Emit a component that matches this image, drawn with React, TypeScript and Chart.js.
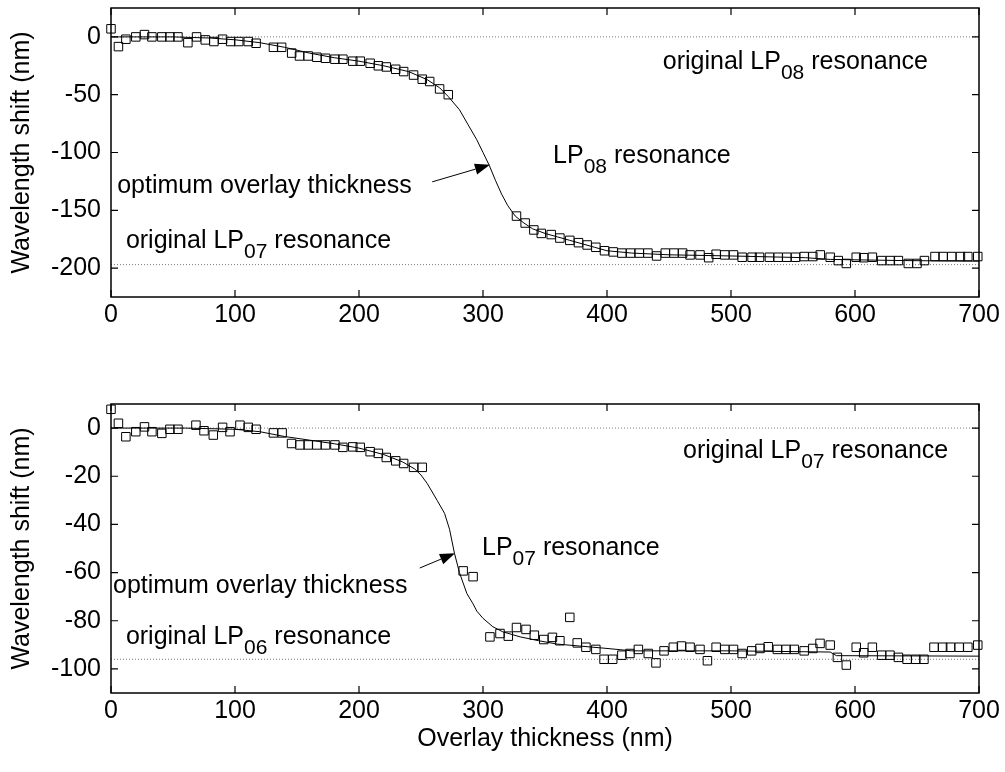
import React, { useEffect, useRef } from 'react';
import { Chart, registerables } from 'chart.js';

Chart.register(...registerables);

const FONT = '"Liberation Sans", Arial, Helvetica, sans-serif';
const FS = 25;

const xTicks = [0, 100, 200, 300, 400, 500, 600, 700];
const topYTicks = [-200, -150, -100, -50, 0];
const botYTicks = [-100, -80, -60, -40, -20, 0];

// Top panel: measured points (squares)
const topPtX = [0, 6, 12, 20, 27, 33, 41, 47.5, 54, 62, 69, 76, 83, 90, 96.5, 103, 110.7, 117, 131, 137.6,
  145.7, 152, 159, 166, 173, 180.6, 187, 195, 201, 209, 215.6, 222, 229.6, 236, 244, 251, 257, 265, 272,
  327, 334, 341, 347, 355, 362, 370, 377, 384, 391, 398, 405, 412, 419, 426, 433, 440, 447, 454, 461, 467,
  475, 482, 488, 495, 502, 509, 517, 523, 531, 538, 545, 552, 559, 566, 572, 580, 586.5, 593, 601, 607,
  614, 621.5, 628.5, 635, 643, 650, 656, 664.5, 671, 678, 685, 691, 699];
const topPtY = [7, -8.4, -2, 0, 2, 0, 0, 0, 0, -5, 0, -2.6, -4, -2, -4, -4, -4, -5.5, -9, -9,
  -14, -16.5, -16.5, -17.6, -18.5, -19.3, -19.3, -21, -21, -22.8, -25, -26, -28, -30, -33, -36.6, -38.6, -45, -50,
  -155, -161, -167, -170, -171, -174, -176, -178, -180, -182, -185, -186, -187, -187, -187, -187, -189.5, -187, -187, -187, -188.6,
  -188.6, -191, -188, -188.6, -188.6, -190.6, -190.6, -190.6, -190.6, -190.6, -190.6, -190.6, -190, -190, -188.6, -190.6, -193.5, -196, -190.6, -191,
  -190.6, -193.5, -193.5, -193.5, -196, -196, -193.5, -190, -190, -190, -190, -190, -190];

// Top panel: fitted curve
const topFitX = [0, 50, 80, 100, 120, 140, 160, 180, 200, 220, 240, 255, 265, 272, 281, 288, 295, 300, 305, 310,
  315, 320, 326, 333, 340, 350, 360, 370, 380, 390, 400, 420, 450, 500, 560, 580, 640, 700];
const topFitY = [0, 0, -1, -2.5, -5, -9, -14, -18, -21, -25, -30, -37, -44, -51.6, -63, -76, -89, -100, -111, -124,
  -136, -146, -155, -161, -166, -170, -173, -176, -179, -182, -185, -187, -188.5, -189.5, -191, -192.5, -193.5, -194];
const topRefY = [0, -197];

// Bottom panel: measured points (squares)
const botPtX = [0, 6, 12, 20, 27, 33, 41, 47.5, 54, 68.5, 75, 82.5, 90, 96, 104, 110.7, 117, 131, 138, 145.6,
  152.4, 159, 166, 173, 180.6, 187, 195, 201, 209, 215.6, 222, 229.6, 236, 244, 251, 284, 292,
  305.6, 313.7, 320.4, 327, 334.7, 341.4, 349, 356, 362, 370, 376, 383, 391, 397.6, 404.6, 412, 418.5, 425.3, 433.3,
  439.5, 446, 453.5, 460, 467, 475, 481, 488, 495, 502, 509, 516.7, 523.4, 530, 537.4, 544.4, 551, 559, 566,
  571.8, 580, 585.8, 593, 601, 607, 614, 621.5, 628.2, 635, 642, 649, 655.6, 663.7, 670.7, 677, 684, 691, 699];
const botPtY = [7.8, 2, -3.6, -1.5, 0.5, -1.5, -2.2, -0.5, -0.5, 1.2, -1.1, -2.9, 0.3, -1.5, 1.2, 0.3, -0.5, -2, -2, -6.4,
  -7, -7, -7, -7, -7, -8, -7.8, -8, -9.8, -10.5, -12.2, -13.6, -14.7, -16.3, -16.3, -59.3, -61.7,
  -86.7, -85.3, -86.4, -82.8, -83.6, -86, -87.8, -86.9, -88.3, -78.6, -89.2, -91, -91.9, -96, -96, -94.3, -93.6, -91.9, -93.6,
  -97.5, -92.5, -91, -90.5, -91, -91.9, -96.6, -91, -91.9, -91.9, -93.6, -92.5, -91.5, -90.8, -91.9, -91.9, -91.9, -92.5, -91.5,
  -89.4, -90.1, -95.2, -98.4, -91, -93.3, -91, -94.3, -94.3, -95.2, -96, -96, -96, -91, -91, -91, -91, -91, -90.1];

// Bottom panel: fitted curve
const botFitX = [0, 60, 100, 120, 140, 160, 180, 200, 220, 235, 245, 250, 255, 263, 269, 273, 277, 281, 287, 292,
  295, 300, 308, 316, 330, 345, 360, 378, 400, 420, 500, 580, 585, 700];
const botFitY = [0, 0, -0.5, -1.5, -3.5, -5, -6.5, -8.3, -11, -14, -17, -19.5, -23, -30, -35.4, -42, -52, -60, -68.7, -73,
  -76, -79, -82.5, -84.6, -86.7, -88.3, -89.7, -90.5, -91.5, -92.5, -92.5, -93, -94.5, -94.7];
const botRefY = [0, -96];

type Part = { t: string; sub?: boolean };
type Note = { x: number; y: number; parts: Part[] };
type Arrow = { x0: number; y0: number; x1: number; y1: number };

const topNotes: Note[] = [
  { x: 445, y: -21.6, parts: [{ t: 'original LP' }, { t: '08', sub: true }, { t: ' resonance' }] },
  { x: 356.5, y: -103, parts: [{ t: 'LP' }, { t: '08', sub: true }, { t: ' resonance' }] },
  { x: 5, y: -129, parts: [{ t: 'optimum overlay thickness' }] },
  { x: 12, y: -176.5, parts: [{ t: 'original LP' }, { t: '07', sub: true }, { t: ' resonance' }] },
];
const topArrow: Arrow = { x0: 259, y0: -125.4, x1: 305.6, y1: -110.7 };

const botNotes: Note[] = [
  { x: 461.3, y: -9.6, parts: [{ t: 'original LP' }, { t: '07', sub: true }, { t: ' resonance' }] },
  { x: 299.2, y: -49.8, parts: [{ t: 'LP' }, { t: '07', sub: true }, { t: ' resonance' }] },
  { x: 1.6, y: -65.6, parts: [{ t: 'optimum overlay thickness' }] },
  { x: 12, y: -86.8, parts: [{ t: 'original LP' }, { t: '06', sub: true }, { t: ' resonance' }] },
];
const botArrow: Arrow = { x0: 249, y0: -58.1, x1: 277.4, y1: -52 };

const zip = (xs: number[], ys: number[]) => xs.map((x, i) => ({ x, y: ys[i] }));

function drawRich(ctx: CanvasRenderingContext2D, parts: Part[], x: number, y: number) {
  let cx = x;
  ctx.textBaseline = 'middle';
  ctx.textAlign = 'left';
  ctx.fillStyle = '#000';
  for (const p of parts) {
    const size = p.sub ? Math.round(FS * 0.82) : FS;
    ctx.font = `${size}px ${FONT}`;
    const dy = p.sub ? FS * 0.45 : 0;
    ctx.fillText(p.t, cx, y + dy);
    cx += ctx.measureText(p.t).width;
  }
}

function framePlugin(xt: number[], yt: number[]) {
  return {
    id: 'frame',
    afterDatasetsDraw(chart: any) {
      const { ctx, chartArea: a, scales } = chart;
      const L = 7;
      ctx.save();
      ctx.strokeStyle = '#000';
      ctx.lineWidth = 1.5;
      ctx.strokeRect(a.left, a.top, a.right - a.left, a.bottom - a.top);
      ctx.lineWidth = 1.2;
      ctx.beginPath();
      for (const v of xt) {
        const px = scales.x.getPixelForValue(v);
        ctx.moveTo(px, a.bottom); ctx.lineTo(px, a.bottom - L);
        ctx.moveTo(px, a.top); ctx.lineTo(px, a.top + L);
      }
      for (const v of yt) {
        const py = scales.y.getPixelForValue(v);
        ctx.moveTo(a.left, py); ctx.lineTo(a.left + L, py);
        ctx.moveTo(a.right, py); ctx.lineTo(a.right - L, py);
      }
      ctx.stroke();
      ctx.restore();
    },
  };
}

function notesPlugin(notes: Note[], arrow: Arrow) {
  return {
    id: 'notes',
    afterDraw(chart: any) {
      const { ctx, scales } = chart;
      const X = (v: number) => scales.x.getPixelForValue(v);
      const Y = (v: number) => scales.y.getPixelForValue(v);
      ctx.save();
      for (const n of notes) drawRich(ctx, n.parts, X(n.x), Y(n.y));
      const x0 = X(arrow.x0), y0 = Y(arrow.y0), x1 = X(arrow.x1), y1 = Y(arrow.y1);
      const ang = Math.atan2(y1 - y0, x1 - x0);
      const hl = 15, hw = 5.5;
      const bx = x1 - hl * Math.cos(ang), by = y1 - hl * Math.sin(ang);
      ctx.strokeStyle = '#000';
      ctx.fillStyle = '#000';
      ctx.lineWidth = 1;
      ctx.beginPath();
      ctx.moveTo(x0, y0);
      ctx.lineTo(bx, by);
      ctx.stroke();
      ctx.beginPath();
      ctx.moveTo(x1, y1);
      ctx.lineTo(bx + hw * Math.sin(ang), by - hw * Math.cos(ang));
      ctx.lineTo(bx - hw * Math.sin(ang), by + hw * Math.cos(ang));
      ctx.closePath();
      ctx.fill();
      ctx.restore();
    },
  };
}

type PanelCfg = {
  ptX: number[]; ptY: number[]; fitX: number[]; fitY: number[]; refY: number[];
  yMin: number; yMax: number; yTicks: number[];
  padTop: number; xHeight: number; xTitle: boolean;
  notes: Note[]; arrow: Arrow;
};

function makeChart(canvas: HTMLCanvasElement, c: PanelCfg) {
  const refSets = c.refY.map((v) => ({
    data: [{ x: 0, y: v }, { x: 700, y: v }],
    showLine: true,
    borderColor: '#7a7a7a',
    borderWidth: 1,
    borderDash: [1, 2],
    pointRadius: 0,
    order: 3,
  }));
  return new Chart(canvas, {
    type: 'scatter',
    data: {
      datasets: [
        ...refSets,
        {
          data: zip(c.fitX, c.fitY),
          showLine: true,
          borderColor: '#000',
          borderWidth: 1,
          pointRadius: 0,
          order: 2,
        },
        {
          data: zip(c.ptX, c.ptY),
          showLine: false,
          pointStyle: 'rect',
          pointRadius: 6,
          pointBorderWidth: 1,
          pointBorderColor: '#000',
          pointBackgroundColor: 'rgba(0,0,0,0)',
          clip: false,
          order: 1,
        },
      ] as any,
    },
    options: {
      responsive: false,
      animation: false,
      devicePixelRatio: 1,
      layout: { padding: { top: c.padTop, right: 26, left: 0, bottom: 0 } },
      plugins: { legend: { display: false }, tooltip: { enabled: false } },
      scales: {
        x: {
          type: 'linear',
          min: 0,
          max: 700,
          grid: { display: false, drawTicks: false },
          border: { display: false },
          ticks: { color: '#000', font: { size: FS, family: FONT }, padding: 3, maxRotation: 0 },
          afterBuildTicks: (s: any) => { s.ticks = xTicks.map((v) => ({ value: v })); },
          afterFit: (s: any) => {
            s.height = c.xHeight;
            s.paddingLeft = 0; s.paddingRight = 0; s.paddingTop = 0; s.paddingBottom = 0;
          },
          title: {
            display: c.xTitle,
            text: 'Overlay thickness (nm)',
            color: '#000',
            font: { size: FS, family: FONT },
            padding: { top: 0, bottom: 18 },
          },
        },
        y: {
          type: 'linear',
          min: c.yMin,
          max: c.yMax,
          grid: { display: false, drawTicks: false },
          border: { display: false },
          ticks: { color: '#000', font: { size: FS, family: FONT }, padding: 10 },
          afterBuildTicks: (s: any) => { s.ticks = c.yTicks.map((v) => ({ value: v })); },
          afterFit: (s: any) => {
            s.width = 111;
            s.paddingLeft = 0; s.paddingRight = 0; s.paddingTop = 0; s.paddingBottom = 0;
          },
          title: {
            display: true,
            text: 'Wavelength shift (nm)',
            color: '#000',
            font: { size: FS, family: FONT },
            padding: { top: 7, bottom: 0 },
          },
        },
      },
    } as any,
    plugins: [framePlugin(xTicks, c.yTicks), notesPlugin(c.notes, c.arrow)],
  });
}

export default function App() {
  const topRef = useRef<HTMLCanvasElement>(null);
  const botRef = useRef<HTMLCanvasElement>(null);

  useEffect(() => {
    Chart.defaults.font.family = FONT;
    const a = makeChart(topRef.current!, {
      ptX: topPtX, ptY: topPtY, fitX: topFitX, fitY: topFitY, refY: topRefY,
      yMin: -225, yMax: 25, yTicks: topYTicks,
      padTop: 8, xHeight: 63, xTitle: false,
      notes: topNotes, arrow: topArrow,
    });
    const b = makeChart(botRef.current!, {
      ptX: botPtX, ptY: botPtY, fitX: botFitX, fitY: botFitY, refY: botRefY,
      yMin: -110, yMax: 10, yTicks: botYTicks,
      padTop: 44, xHeight: 79, xTitle: true,
      notes: botNotes, arrow: botArrow,
    });
    return () => { a.destroy(); b.destroy(); };
  }, []);

  return (
    <div style={{ position: 'fixed', left: 0, top: 0, width: 1005, height: 772, background: '#fff' }}>
      <canvas ref={topRef} width={1005} height={360}
        style={{ position: 'absolute', left: 0, top: 0, width: 1005, height: 360 }} />
      <canvas ref={botRef} width={1005} height={412}
        style={{ position: 'absolute', left: 0, top: 360, width: 1005, height: 412 }} />
    </div>
  );
}
